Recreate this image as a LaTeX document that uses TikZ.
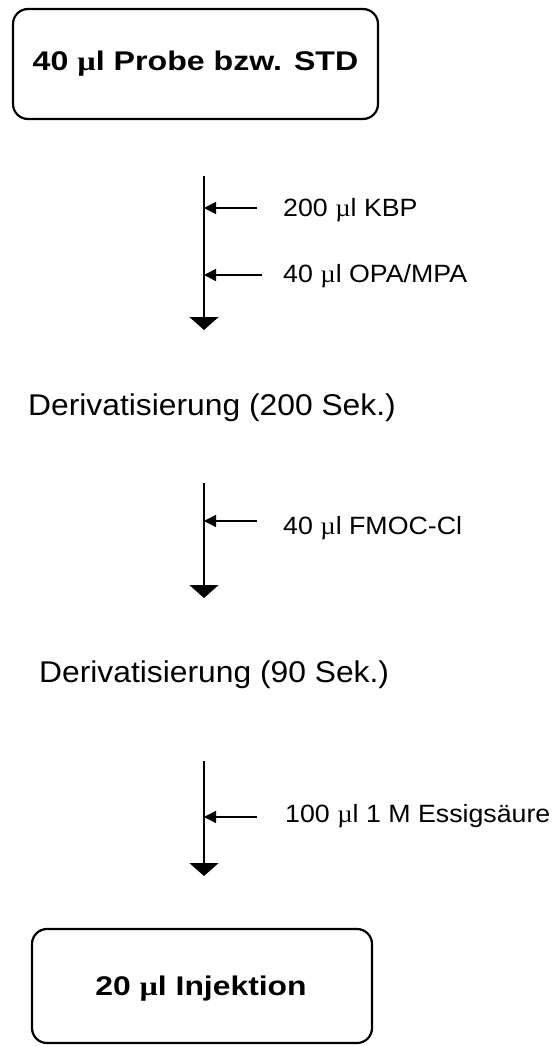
\documentclass[tikz,border=0pt]{standalone}
\usepackage{fontspec}
\setmainfont{Liberation Sans}
\newfontfamily\mufont{Liberation Serif}
\usetikzlibrary{arrows.meta}
\newcommand{\mic}{{\mufont µ}l}
\newcommand{\wide}[2]{\scalebox{#1}[1]{#2}}
\tikzset{
  box/.style={draw, line width=2.2pt, rounded corners=15pt, inner sep=0pt},
  shaft/.style={line width=1.5pt, -{Triangle[width=29pt,length=13pt]}},
  feed/.style={line width=1.5pt, -{Triangle[width=12pt,length=12pt]}},
  lab/.style={anchor=west, inner sep=0pt, font=\fontsize{25}{30}\selectfont},
  step txt/.style={anchor=west, inner sep=0pt, font=\fontsize{30}{36}\selectfont},
  boxtxt/.style={inner sep=0pt, font=\bfseries\fontsize{27}{32}\selectfont}
}
\begin{document}
\begin{tikzpicture}[x=1pt,y=-1pt]
\useasboundingbox (0,0) rectangle (552,1046);
% top box
\node[box, minimum width=365pt, minimum height=110pt] (top) at (195.5,64) {};
\node[boxtxt] (toptxt) at (195.5,64) {\wide{1.19}{40 \mic{} Probe bzw. STD}};
% arrow 1
\coordinate (a1s) at (204,176);
\coordinate (a1e) at (204,330);
\draw[shaft] (a1s) -- (a1e);
\node[lab] (l1) at (283,210) {\wide{1.07}{200 \mic{} KBP}};
\node[lab] (l2) at (283,276) {\wide{1.07}{40 \mic{} OPA/MPA}};
\coordinate (f1) at (257,208);
\coordinate (f2) at (262,275);
\draw[feed] (f1) -- (204,208);
\draw[feed] (f2) -- (204,275);
% step 1
\node[step txt] (s1) at (28,408) {\wide{1.06}{Derivatisierung (200 Sek.)}};
% arrow 2
\coordinate (a2s) at (204,483);
\coordinate (a2e) at (204,598);
\draw[shaft] (a2s) -- (a2e);
\coordinate (f3) at (257,521);
\draw[feed] (f3) -- (204,521);
\node[lab] (l3) at (283,528) {\wide{1.07}{40 \mic{} FMOC-Cl}};
% step 2
\node[step txt] (s2) at (39,675) {\wide{1.06}{Derivatisierung (90 Sek.)}};
% arrow 3
\coordinate (a3s) at (204,761);
\coordinate (a3e) at (204,876);
\draw[shaft] (a3s) -- (a3e);
\coordinate (f4) at (257,817);
\draw[feed] (f4) -- (204,817);
\node[lab] (l4) at (285,816) {\wide{1.07}{100 \mic{} 1 M Essigsäure}};
% bottom box
\node[box, minimum width=340pt, minimum height=114pt] (bot) at (202,986) {};
\node[boxtxt] (bottxt) at (201,989) {\wide{1.18}{20 \mic{} Injektion}};
\end{tikzpicture}
\end{document}
